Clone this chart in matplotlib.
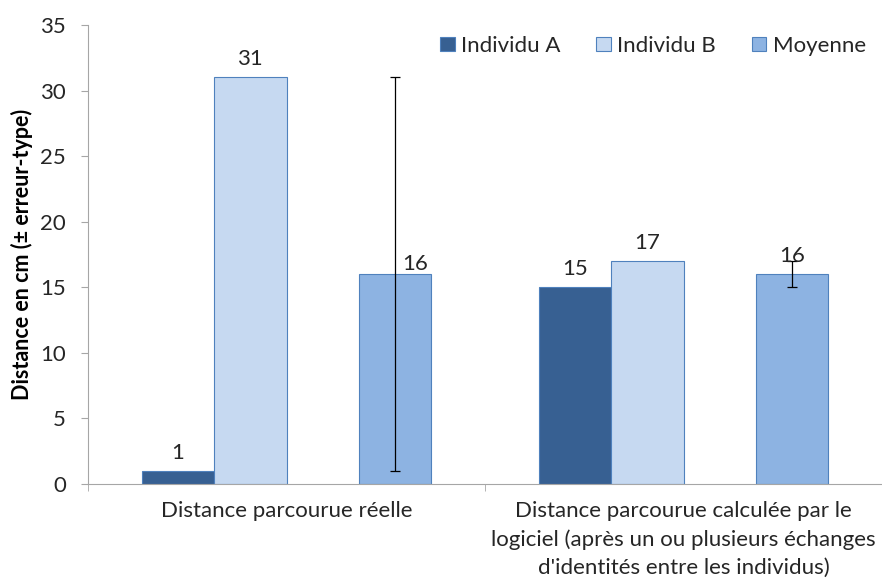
"""
Distance parcourue - individus A / B et moyenne
"""

import matplotlib as mpl
import matplotlib.pyplot as plt
import numpy as np

mpl.rcParams["font.family"] = ["Lato", "DejaVu Sans"]

CATEGORIES = [
    "Distance parcourue réelle",
    "Distance parcourue calculée par le\nlogiciel (après un ou plusieurs échanges\nd'identités entre les individus)",
]
SERIES = ["Individu A", "Individu B", "Moyenne"]
indiv_a = [1, 15]
indiv_b = [31, 17]
moyenne = [16, 16]
moyenne_err = [15, 1]

COLORS = ["#376092", "#C6D9F1", "#8DB3E2"]
EDGE = "#4F81BD"
TEXT_COLOR = "#262626"
AXIS_COLOR = "#A6A6A6"
SLOTS = [0, 1, 3]  # Excel leaves an empty slot between B and Moyenne
WIDTH = 0.182
LABEL_FONT_SIZE = 15.5
TICK_FONT_SIZE = 16

fig = plt.figure(figsize=(8.82, 5.82), dpi=100)
ax = fig.add_axes([88 / 882, 1 - 484 / 582, 794 / 882, 459 / 582])

x = np.arange(len(CATEGORIES))
values = [indiv_a, indiv_b, moyenne]
for name, vals, color, slot in zip(SERIES, values, COLORS, SLOTS):
    pos = x + (slot - 1.5) * WIDTH
    bars = ax.bar(pos, vals, WIDTH, color=color, ec=EDGE, lw=0.8, label=name, zorder=2)
    if name == "Moyenne":
        ax.errorbar(pos, vals, yerr=moyenne_err, fmt="none", ecolor="#000000",
                    elinewidth=0.9, capsize=3.5, capthick=0.9, zorder=3)
    for j, bar in enumerate(bars):
        tx = bar.get_x() + bar.get_width() / 2
        ty = bar.get_height()
        dx, dy = 0, 8
        if name == "Moyenne" and j == 0:
            dx, dy = 20, 0  # moved aside from the error bar
        ax.annotate(f"{vals[j]}", (tx, ty), xytext=(dx, dy), textcoords="offset pixels",
                    ha="center", va="bottom", fontsize=TICK_FONT_SIZE, color=TEXT_COLOR, zorder=4)

ax.set_xlim(-0.5, 1.5)
ax.set_ylim(0, 35)
ax.set_yticks(np.arange(0, 36, 5))
ax.set_xticks(x)
ax.set_xticklabels(CATEGORIES, fontsize=TICK_FONT_SIZE, color=TEXT_COLOR, linespacing=1.5)
ax.set_xticks([-0.5, 0.5, 1.5], minor=True)
ax.tick_params(axis="x", which="major", length=0, pad=12)
ax.tick_params(axis="x", which="minor", length=5, color=AXIS_COLOR)
ax.tick_params(axis="y", labelsize=TICK_FONT_SIZE, length=5, pad=11,
               color=AXIS_COLOR, labelcolor=TEXT_COLOR)
ax.set_ylabel("Distance en cm (± erreur-type)", fontsize=LABEL_FONT_SIZE,
              fontweight="bold", labelpad=5, color="#000000")

for side in ["top", "right"]:
    ax.spines[side].set_visible(False)
for side in ["left", "bottom"]:
    ax.spines[side].set_color(AXIS_COLOR)

ax.legend(loc="upper right", bbox_to_anchor=(1.005, 1.02), ncol=3, frameon=False,
          fontsize=TICK_FONT_SIZE, handlelength=0.65, handleheight=0.65,
          handletextpad=0.3, columnspacing=1.6, labelcolor=TEXT_COLOR)

plt.savefig("out.png", dpi=100)
